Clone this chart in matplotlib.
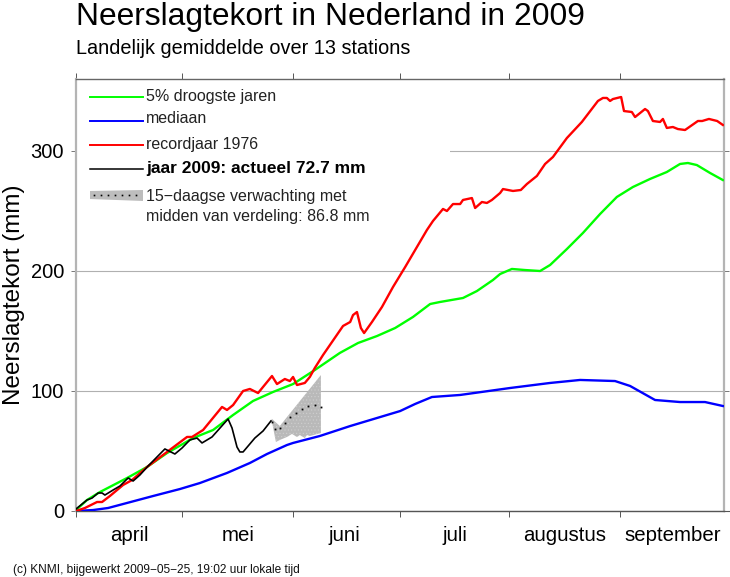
import numpy as np
import matplotlib
matplotlib.use("Agg")
import matplotlib.pyplot as plt
from matplotlib.lines import Line2D
from matplotlib.patches import Rectangle, Polygon

W, H = 730, 577
plt.rcParams['font.family'] = ['Liberation Sans', 'DejaVu Sans']
plt.rcParams['hatch.linewidth'] = 0.4

months = ['april', 'mei', 'juni', 'juli', 'augustus', 'september']
month_ticks = [0, 29.8, 60.7, 90.7, 121.4, 152.5]
month_centers = [15, 45.4, 75.3, 106.1, 137, 167]
y_ticks = [0, 100, 200, 300]

green_d = [0,3.1,6.7,14.3,19.9,25.5,32.8,38.4,44,49.6,55.2,60.8,66.9,73.9,79,84.3,89.4,94.4,99.2,102,108.4,112.3,116.8,118.8,122.1,125.8,130,132.8,137.5,142,146.8,151.5,156,160.8,165.5,169.2,171.4,173.9,177.6,181.2]
green_v = [0.8,9.2,15.8,27.5,36.7,48.3,60.8,67.5,80,91.7,99.2,105.8,117.5,131.7,140,145.8,152.5,161.7,172.5,174.2,177.5,183.3,192.5,197.5,201.7,200.8,200,205,218.3,231.7,247.5,261.7,270,276.7,282.5,289.2,290,288.3,281.7,275.8]

blue_d = [0,4.8,9,14.3,21.6,29.1,34.7,42.3,48.7,53.5,59.1,60.8,68.3,76.8,85.2,90.8,95,99.7,107.6,121.6,132.8,141.2,151,155.2,162.2,169.2,176.2,181.2]
blue_v = [0,0.8,2.5,6.7,12.5,18.3,23.3,31.7,40,47.5,55,56.7,62.5,70.8,78.3,83.3,89.2,95,96.7,102.5,106.7,109.2,108.3,104.2,92.5,90.8,90.8,87.5]

red_d = [0,2.5,5.9,7.3,9.5,13.2,15.7,19.9,25.5,31.1,32.5,35.6,40.9,42.3,44,46.8,48.7,51,54.9,56.3,58.5,59.9,60.8,61.9,64.1,65.5,66.9,69.2,74.8,76.8,77.6,78.7,79.8,80.7,82.9,85.7,88.8,92.2,98.3,100,102.8,103.9,105.6,107.6,108.4,110.9,111.8,113.7,115.1,116.5,118.8,119.6,122.4,124.6,126.3,129.1,131.4,133.6,137.5,141.7,146.2,147.6,148.7,149.6,150.4,152.7,153.5,155.7,156.6,159.4,160.2,161.6,163.6,164.4,165.5,167.2,168.6,170.6,174.2,175.4,177.3,179.6,181.2]
red_v = [0,2.5,7.5,7.5,12.5,21.7,25.8,36.7,49.2,61.7,61.7,67.5,86.7,84.2,88.3,100,101.7,98.3,112.5,105.8,110,108.3,111.7,105,106.7,111.7,119.2,130,154.2,157.5,163.3,165.8,152.5,148.3,157.5,170,186.7,203.3,234.2,241.7,251.7,250,255.8,255.8,259.2,260.8,252.5,257.5,256.7,259.2,265,268.3,266.7,267.5,272.5,279.2,289.2,295,310.8,324.2,341.7,344.2,344.2,341.7,343.3,345,333.3,332.5,328.3,335,333.3,325,324.2,326.7,319.2,320,318.3,317.5,325,325,326.7,325,321.7]

black_d = [0,3.1,4.5,6.2,7.3,8.1,10.4,12.3,14.6,16,17.9,20.2,24.9,27.7,29.7,31.9,33.9,35.3,38.1,42.6,43.7,45.1,45.9,46.8,50.1,52.4,54.6]
black_v = [1.7,9.2,10.8,15,15,13.3,17.5,20.8,27.5,25,30,37.5,51.7,47.5,52.5,59.2,60.8,56.7,61.7,76.7,69.2,53.3,49.2,49.2,60.8,66.7,75]

mean_d = [54.9,55.7,57.1,58.5,59.9,61.6,63.3,65,66.9,68.6]
mean_v = [74.2,68.3,69.2,73.3,78.3,81.7,85,87.5,88.3,86.8]

upper_d = [54.3,54.9,57.1,59.1,68.6]
upper_v = [74.2,76.7,70.8,78.3,113.3]
lower_d = [54.9,56,57.1,59.1,60.5,61.9,62.7,64.1,64.7,65.5,68.6]
lower_v = [74.2,57.5,59.2,61.7,64.2,61.7,63.3,60.8,63.3,62.5,65]

fig = plt.figure(figsize=(W/100, H/100), dpi=100)
L, R, T, B = 76, 724, 79, 511
ax = fig.add_axes([L/W, 1-B/H, (R-L)/W, (B-T)/H])
ax.set_xlim(0, (R-L)/3.57)
ax.set_ylim(0, (B-T)/1.2)
ax.set_facecolor('white')

for s, c, w in (('left', '#b4b4b4', 1.6), ('right', '#b4b4b4', 1.6), ('top', '#666666', 1.0), ('bottom', '#555555', 1.0)):
    ax.spines[s].set_color(c)
    ax.spines[s].set_linewidth(w)

ax.set_yticks(y_ticks)
ax.set_xticks(month_ticks)
ax.set_xticklabels([])
ax.tick_params(axis='x', which='major', top=True, bottom=True, length=4.3, width=0.7, color='#555555', direction='out')
ax.tick_params(axis='y', which='major', left=True, right=True, length=3.6, width=0.7, color='#777777',
               labelsize=14.5, pad=5, direction='out')
ax.set_ylabel('Neerslagtekort (mm)', fontsize=17.5, labelpad=4)
ax.yaxis.grid(True, color='#b0b0b0', lw=0.8, zorder=1)
ax.set_axisbelow(True)

ax.add_patch(Rectangle((0, 1 - (235-T)/(B-T)), (450-L)/(R-L), (235-T)/(B-T), transform=ax.transAxes,
                       fc='white', ec='none', zorder=1.5))

ax.fill(upper_d + lower_d[::-1], upper_v + lower_v[::-1], facecolor='#b9b9b9', edgecolor='#cfcfcf',
        hatch='.....', lw=0, zorder=2)
ax.plot(green_d, green_v, color='#00ff00', lw=1.7, zorder=3)
ax.plot(blue_d, blue_v, color='#0000ff', lw=1.7, zorder=3)
ax.plot(red_d, red_v, color='#ff0000', lw=1.7, zorder=4)
ax.plot(black_d, black_v, color='black', lw=1.2, zorder=5)
ax.plot(mean_d, mean_v, ls='none', marker='s', ms=1.3, mew=0, color='black', zorder=5)

for lab, c in zip(months, month_centers):
    ax.annotate(lab, (c, 0), xytext=(0, -30*0.72), textcoords='offset points', ha='center', va='baseline',
                fontsize=14.7, annotation_clip=False)

def fx(x): return x/W
def fy(y): return 1-y/H

# bottom line overshoot
fig.add_artist(Line2D([fx(R), fx(729)], [fy(B), fy(B)], color='#555555', lw=0.8))

fig.text(fx(76), fy(25), 'Neerslagtekort in Nederland in 2009', fontsize=22.9, va='baseline', color='black')
fig.text(fx(76), fy(54), 'Landelijk gemiddelde over 13 stations', fontsize=14.3, va='baseline', color='black')
fig.text(fx(13), fy(573), '(c) KNMI, bijgewerkt 2009\u221205\u221225, 19:02 uur lokale tijd', fontsize=8.6, va='baseline', color='#111111')

leg = [(97, '#00ff00', 1.4), (121, '#0000ff', 1.4), (145, '#ff0000', 1.4), (169, 'black', 1.1)]
for y, c, w in leg:
    fig.add_artist(Line2D([fx(90), fx(143)], [fy(y), fy(y)], color=c, lw=w, zorder=6))
fig.text(fx(146), fy(101), '5% droogste jaren', fontsize=11.5, va='baseline', color='#222222', zorder=6)
fig.text(fx(146), fy(123), 'mediaan', fontsize=11.5, va='baseline', color='#222222', zorder=6)
fig.text(fx(146), fy(149), 'recordjaar 1976', fontsize=11.5, va='baseline', color='#222222', zorder=6)
fig.text(fx(146), fy(173), 'jaar 2009: actueel 72.7 mm', fontsize=12.5, va='baseline', color='black',
         fontweight='bold', zorder=6)
fig.text(fx(146), fy(201), '15\u2212daagse verwachting met', fontsize=11.5, va='baseline', color='#222222', zorder=6)
fig.text(fx(146), fy(221), 'midden van verdeling: 86.8 mm', fontsize=11.5, va='baseline', color='#222222', zorder=6)
fig.add_artist(Polygon([(fx(90), fy(191)), (fx(143), fy(190)), (fx(143), fy(201)), (fx(90), fy(199))],
                       closed=True, transform=fig.transFigure, fc='#bdbdbd', ec='none', zorder=6))
fig.add_artist(Line2D([fx(x) for x in range(94, 143, 7)], [fy(195)]*7, ls='none', marker='s', ms=1.2, mew=0,
                      color='black', zorder=7))

fig.savefig('out.png', dpi=100)
